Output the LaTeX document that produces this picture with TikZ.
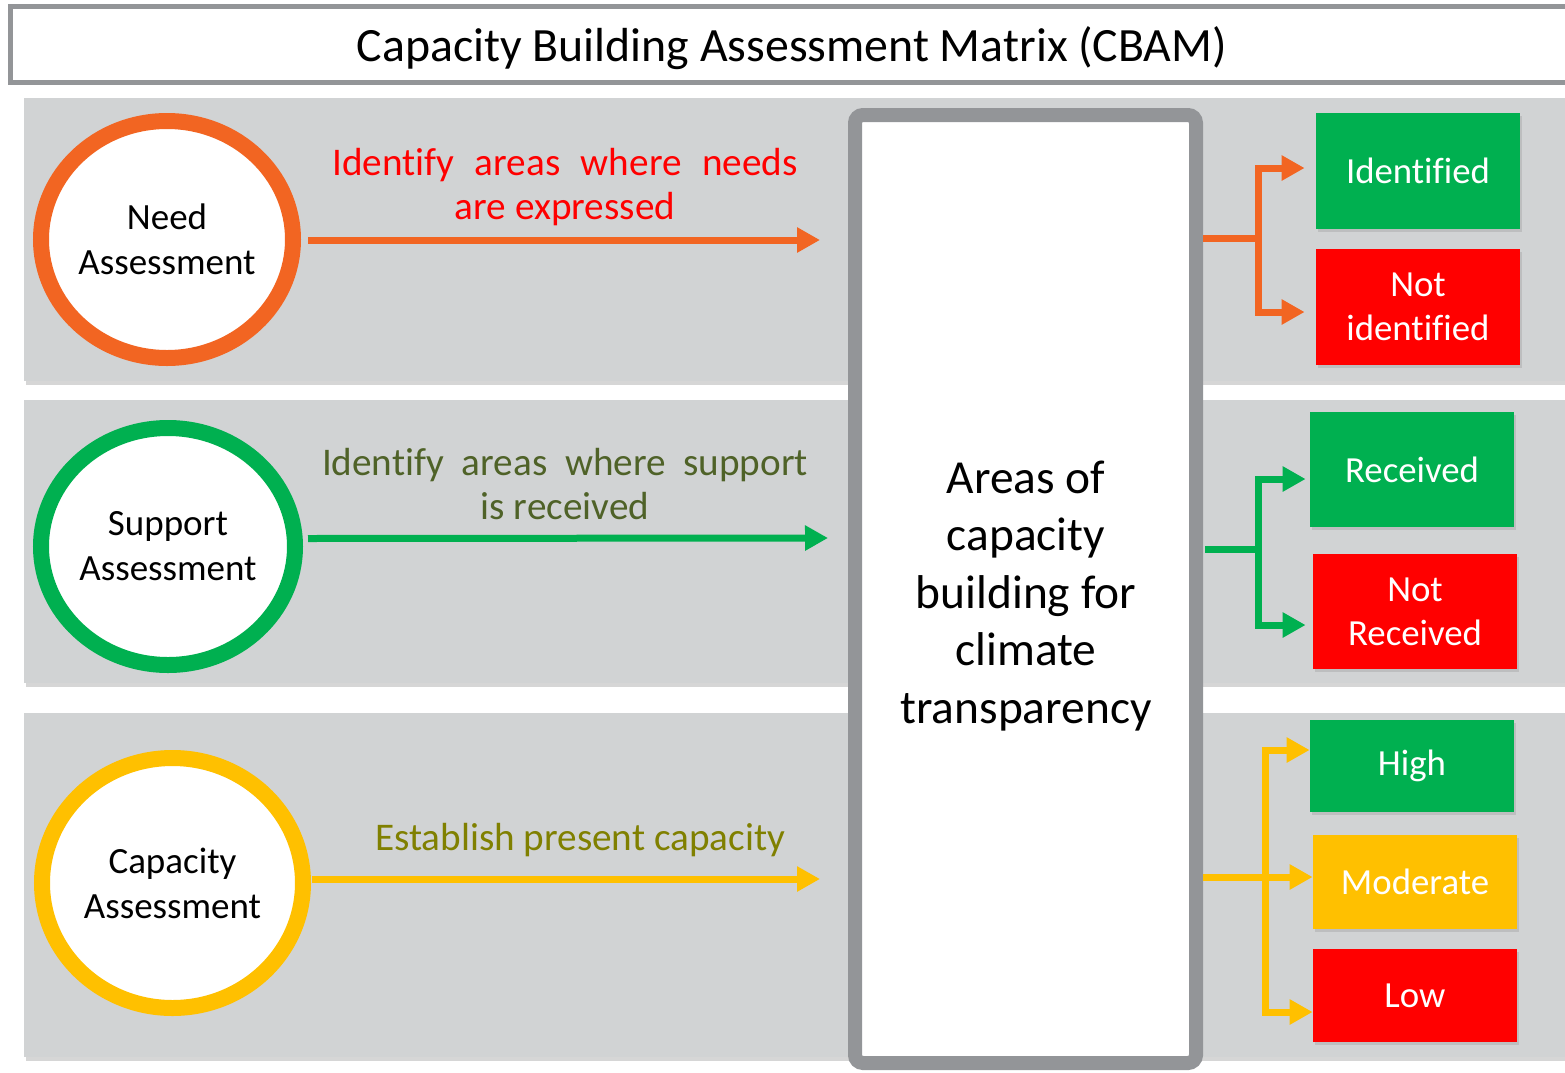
\documentclass[tikz,border=0pt]{standalone}
\usepackage{fontspec}
\setmainfont{Carlito}[Ligatures=CommonOff]
\usetikzlibrary{arrows.meta,shapes.geometric,shadows}
\definecolor{bandgray}{HTML}{D1D3D4}
\definecolor{bordergray}{HTML}{939598}
\definecolor{cborange}{HTML}{F26522}
\definecolor{cbgreen}{HTML}{00B050}
\definecolor{cbyellow}{HTML}{FFC000}
\definecolor{cbred}{HTML}{FF0000}
\definecolor{supporttext}{HTML}{4F6228}
\definecolor{captext}{HTML}{808000}
\begin{document}
\begin{tikzpicture}[x=0.5pt,y=-0.5pt,
  band/.style={fill=bandgray},
  bandshadow/.style={fill=black!16},
  assess/.style={ellipse, draw, fill=white, line width=8pt, inner sep=0pt,
    align=center, font=\fontsize{18.5pt}{22.5pt}\selectfont},
  lbl/.style={align=center, inner sep=0pt, font=\fontsize{19.6pt}{22pt}\selectfont},
  result/.style={minimum width=102pt, inner sep=0pt, align=center, text=white,
    font=\fontsize{18.4pt}{22pt}\selectfont,
    drop shadow={shadow xshift=1pt, shadow yshift=-1.5pt, fill=black!40, opacity=0.35}},
  arr/.style={line width=3.5pt, -{Triangle[length=11.5pt,width=12pt]}},
  conn/.style={line width=3.5pt},
]
\useasboundingbox (0,0) rectangle (1565,1072);
\clip (0,0) rectangle (1565,1072);

% title
\draw[bordergray, fill=white, line width=2.5pt] (10.5,6.5) rectangle (1600,82.5);
\node[font=\fontsize{23.9pt}{28pt}\selectfont, inner sep=0pt] (title) at (792,48) {Capacity Building Assessment Matrix (CBAM)};

% bands
\fill[bandshadow] (26,102) rectangle (1600,385);
\fill[band] (24,98) rectangle (1600,381);
\fill[bandshadow] (26,404) rectangle (1600,687);
\fill[band] (24,400) rectangle (1600,683);
\fill[bandshadow] (26,717) rectangle (1600,1061);
\fill[band] (24,713) rectangle (1600,1057);

% central box
\node[draw=bordergray, fill=white, line width=7pt, rounded corners=4pt,
  minimum width=170.5pt, minimum height=474pt, inner sep=0pt] (box) at (1025.5,589) {};
\node[align=center, inner sep=0pt, font=\fontsize{23.7pt}{28.75pt}\selectfont] (areas) at (1026,596)
  {Areas of\\capacity\\building for\\climate\\transparency};

% assessment circles
\node[assess, draw=cborange, minimum width=126pt, minimum height=118.5pt] (need) at (167,239.5) {Need\\Assessment};
\node[assess, draw=cbgreen, minimum width=127pt, minimum height=118.5pt] (support) at (168,546.5) {Support\\Assessment};
\node[assess, draw=cbyellow, minimum width=130.5pt, minimum height=125pt] (capacity) at (172.5,883) {Capacity\\Assessment};

% labels
\node[lbl, text=cbred] (needlbl) at (565,187) {\makebox[232.5pt][s]{Identify areas where needs}\\are expressed};
\node[lbl, text=supporttext] (supportlbl) at (565,484) {\makebox[243pt][s]{Identify areas where support}\\is received};
\node[lbl, text=captext] (caplbl) at (580,840) {Establish present capacity};

% main arrows
\draw[arr, cborange] ([xshift=3.5pt,yshift=-0.25pt]need.east) -- ([xshift=-14pt]box.west |- 0,240);
\draw[arr, cbgreen] ([xshift=2.5pt,yshift=4pt]support.east) -- ([xshift=-10pt]box.west |- 0,538);
\draw[arr, cbyellow] ([xshift=0.5pt,yshift=2pt]capacity.east) -- ([xshift=-14pt]box.west |- 0,879);

% result boxes
\node[result, fill=cbgreen, minimum height=58pt] (ident) at (1418,171) {Identified};
\node[result, fill=cbred, minimum height=58pt] (notident) at (1418,307) {Not\\identified};
\node[result, fill=cbgreen, minimum height=57.5pt] (recv) at (1412,469.5) {Received};
\node[result, fill=cbred, minimum height=57.5pt] (notrecv) at (1415,611.5) {Not\\Received};
\node[result, fill=cbgreen, minimum height=46pt] (high) at (1412,766) {High};
\node[result, fill=cbyellow, minimum height=47pt] (moderate) at (1415,882) {Moderate};
\node[result, fill=cbred, minimum height=46.5pt] (low) at (1415,995.5) {Low};

% branch connectors
\coordinate (j1) at (1258,238);
\coordinate (j2) at (1258,549);
\coordinate (j3) at (1265,877);
\draw[conn, cborange] (box.east |- j1) -- (j1);
\draw[arr, cborange] (j1) |- ([xshift=-5.5pt,yshift=1.5pt]ident.west);
\draw[arr, cborange] (j1) |- ([xshift=-5.5pt,yshift=-2.5pt]notident.west);
\draw[conn, cbgreen] ([xshift=1pt]box.east |- j2) -- (j2);
\draw[arr, cbgreen] (j2) |- ([xshift=-2pt,yshift=-4.75pt]recv.west);
\draw[arr, cbgreen] (j2) |- ([xshift=-3.5pt,yshift=-6.75pt]notrecv.west);
\draw[arr, cbyellow] (box.east |- j3) -- (moderate.west |- j3);
\draw[arr, cbyellow] (j3) |- ([yshift=8pt]high.west);
\draw[arr, cbyellow] (j3) |- ([yshift=-8.25pt]low.west);
\end{tikzpicture}
\end{document}
